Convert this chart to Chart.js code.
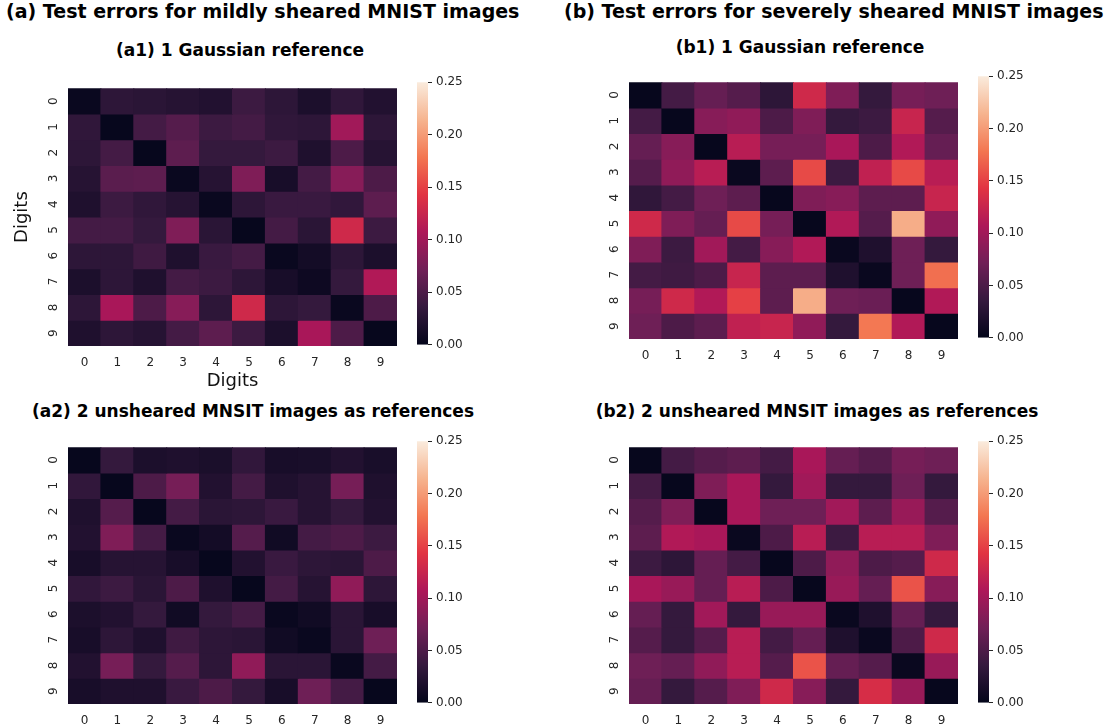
<!DOCTYPE html>
<html>
<head>
<meta charset="utf-8">
<script src="https://cdn.jsdelivr.net/npm/chart.js@4.4.1/dist/chart.umd.min.js"></script>
<style>
  body { margin: 0; background: #fff; }
  #fig { position: relative; width: 1104px; height: 728px; overflow: hidden; font-family: 'DejaVu Sans', sans-serif; }
  #fig canvas { position: absolute; }
  .t { position: absolute; white-space: nowrap; font-weight: bold; color: #000; line-height: 1; }
  .c { transform: translateX(-50%); }
</style>
</head>
<body>
<div id="fig">
  <div class="t" style="left:6px;top:2px;font-size:19px">(a) Test errors for mildly sheared MNIST images</div>
  <div class="t" style="left:564px;top:2px;font-size:19px">(b) Test errors for severely sheared MNIST images</div>
  <div class="t c" style="left:240px;top:42px;font-size:17px">(a1) 1 Gaussian reference</div>
  <div class="t c" style="left:800px;top:39px;font-size:17px">(b1) 1 Gaussian reference</div>
  <div class="t c" style="left:253px;top:403px;font-size:17px">(a2) 2 unsheared MNSIT images as references</div>
  <div class="t c" style="left:817px;top:403px;font-size:17px">(b2) 2 unsheared MNSIT images as references</div>
  <canvas id="hA1"></canvas><canvas id="cA1"></canvas>
  <canvas id="hB1"></canvas><canvas id="cB1"></canvas>
  <canvas id="hA2"></canvas><canvas id="cA2"></canvas>
  <canvas id="hB2"></canvas><canvas id="cB2"></canvas>
</div>
<script>
const digits = ['0', '1', '2', '3', '4', '5', '6', '7', '8', '9'];

// rows = true digit, columns = predicted digit
const errA1 = [
  [0.005, 0.030, 0.028, 0.025, 0.022, 0.040, 0.030, 0.018, 0.032, 0.022],
  [0.032, 0.003, 0.045, 0.055, 0.040, 0.045, 0.032, 0.030, 0.100, 0.030],
  [0.030, 0.045, 0.003, 0.060, 0.035, 0.035, 0.040, 0.020, 0.050, 0.025],
  [0.025, 0.058, 0.060, 0.005, 0.025, 0.080, 0.015, 0.045, 0.085, 0.050],
  [0.020, 0.040, 0.032, 0.025, 0.005, 0.030, 0.038, 0.038, 0.033, 0.060],
  [0.045, 0.045, 0.035, 0.080, 0.028, 0.003, 0.045, 0.028, 0.130, 0.040],
  [0.030, 0.030, 0.042, 0.020, 0.038, 0.045, 0.005, 0.012, 0.030, 0.018],
  [0.018, 0.030, 0.020, 0.045, 0.040, 0.030, 0.015, 0.008, 0.035, 0.110],
  [0.030, 0.105, 0.050, 0.085, 0.030, 0.130, 0.030, 0.035, 0.005, 0.050],
  [0.020, 0.030, 0.025, 0.045, 0.060, 0.040, 0.018, 0.105, 0.050, 0.003]
];
const errA2 = [
  [0.003, 0.035, 0.018, 0.020, 0.017, 0.033, 0.015, 0.016, 0.022, 0.016],
  [0.033, 0.003, 0.050, 0.075, 0.022, 0.045, 0.020, 0.025, 0.075, 0.020],
  [0.020, 0.055, 0.003, 0.045, 0.028, 0.030, 0.038, 0.025, 0.035, 0.022],
  [0.022, 0.080, 0.045, 0.005, 0.012, 0.055, 0.010, 0.045, 0.050, 0.040],
  [0.015, 0.025, 0.025, 0.015, 0.003, 0.022, 0.038, 0.030, 0.028, 0.050],
  [0.033, 0.040, 0.028, 0.050, 0.020, 0.003, 0.045, 0.025, 0.090, 0.030],
  [0.018, 0.022, 0.035, 0.010, 0.035, 0.045, 0.005, 0.010, 0.028, 0.015],
  [0.015, 0.030, 0.020, 0.042, 0.030, 0.028, 0.010, 0.005, 0.028, 0.070],
  [0.022, 0.075, 0.035, 0.055, 0.030, 0.090, 0.028, 0.028, 0.005, 0.045],
  [0.015, 0.020, 0.020, 0.038, 0.050, 0.035, 0.015, 0.070, 0.045, 0.003]
];
const errB1 = [
  [0.003, 0.045, 0.065, 0.055, 0.030, 0.130, 0.080, 0.035, 0.075, 0.070],
  [0.045, 0.003, 0.085, 0.090, 0.050, 0.080, 0.035, 0.040, 0.125, 0.055],
  [0.065, 0.085, 0.003, 0.115, 0.075, 0.075, 0.105, 0.050, 0.110, 0.065],
  [0.055, 0.090, 0.115, 0.005, 0.060, 0.155, 0.040, 0.120, 0.155, 0.115],
  [0.032, 0.045, 0.070, 0.060, 0.003, 0.080, 0.085, 0.060, 0.060, 0.125],
  [0.130, 0.080, 0.065, 0.155, 0.075, 0.003, 0.110, 0.055, 0.210, 0.090],
  [0.080, 0.040, 0.100, 0.045, 0.085, 0.110, 0.005, 0.020, 0.070, 0.035],
  [0.045, 0.042, 0.050, 0.125, 0.060, 0.060, 0.020, 0.005, 0.070, 0.175],
  [0.075, 0.130, 0.110, 0.150, 0.060, 0.210, 0.070, 0.068, 0.003, 0.110],
  [0.070, 0.050, 0.060, 0.120, 0.125, 0.090, 0.035, 0.180, 0.110, 0.003]
];
const errB2 = [
  [0.003, 0.045, 0.055, 0.060, 0.045, 0.105, 0.065, 0.055, 0.075, 0.070],
  [0.045, 0.003, 0.080, 0.105, 0.035, 0.100, 0.035, 0.035, 0.070, 0.035],
  [0.055, 0.080, 0.003, 0.105, 0.070, 0.070, 0.100, 0.060, 0.095, 0.055],
  [0.060, 0.110, 0.105, 0.005, 0.050, 0.115, 0.040, 0.115, 0.115, 0.080],
  [0.040, 0.030, 0.065, 0.045, 0.003, 0.050, 0.090, 0.050, 0.055, 0.130],
  [0.105, 0.095, 0.065, 0.115, 0.050, 0.003, 0.095, 0.065, 0.160, 0.085],
  [0.065, 0.035, 0.100, 0.035, 0.095, 0.095, 0.005, 0.020, 0.065, 0.035],
  [0.055, 0.035, 0.055, 0.115, 0.045, 0.065, 0.020, 0.005, 0.050, 0.130],
  [0.070, 0.065, 0.090, 0.115, 0.055, 0.160, 0.065, 0.055, 0.005, 0.095],
  [0.065, 0.035, 0.055, 0.080, 0.130, 0.085, 0.035, 0.135, 0.095, 0.003]
];
const vmin = 0;
const vmax = 0.25;
const cbarStep = 0.05;

// seaborn "rocket" colormap, sampled
const rocketStops = [
  [0, '#03051a'], [1 / 7, '#35193e'], [2 / 7, '#701f57'], [3 / 7, '#ad1759'],
  [4 / 7, '#e13342'], [5 / 7, '#f37651'], [6 / 7, '#f6b48f'], [1, '#faebdd']
];

function hexRgb(h) {
  return [parseInt(h.slice(1, 3), 16), parseInt(h.slice(3, 5), 16), parseInt(h.slice(5, 7), 16)];
}

function rocket(v) {
  let t = (v - vmin) / (vmax - vmin);
  t = Math.max(0, Math.min(1, t));
  for (let i = 1; i < rocketStops.length; i++) {
    const a = rocketStops[i - 1];
    const b = rocketStops[i];
    if (t <= b[0]) {
      const f = (t - a[0]) / (b[0] - a[0]);
      const ca = hexRgb(a[1]);
      const cb = hexRgb(b[1]);
      const c = ca.map((x, k) => Math.round(x + (cb[k] - x) * f));
      return 'rgb(' + c.join(',') + ')';
    }
  }
  return rocketStops[rocketStops.length - 1][1];
}

const TICK_FONT = { family: "'DejaVu Sans', sans-serif", size: 12 };
const TEXT = '#262626';
const YAXIS_W = 68;
const HEAT_W = 329;

function heatmap(id, matrix, left, top, height, withTitles) {
  const bottomH = withTitles ? 50 : 30;
  const cv = document.getElementById(id);
  cv.width = YAXIS_W + HEAT_W + 10;
  cv.height = 10 + height + bottomH;
  cv.style.left = (left - YAXIS_W) + 'px';
  cv.style.top = (top - 10) + 'px';

  new Chart(cv, {
    type: 'bar',
    data: {
      labels: digits,
      datasets: matrix.map(function(row, i) {
        return {
          label: digits[i],
          data: row.map(function() { return 1; }),
          backgroundColor: row.map(rocket),
          borderWidth: 0,
          barPercentage: 1,
          categoryPercentage: 1,
          inflateAmount: 0.5
        };
      })
    },
    options: {
      responsive: false,
      animation: false,
      layout: { padding: { top: 10, right: 10 } },
      plugins: { legend: { display: false }, tooltip: { enabled: false } },
      scales: {
        x: {
          stacked: true,
          grid: { display: false, drawTicks: false },
          border: { display: false },
          ticks: { color: TEXT, font: TICK_FONT, padding: 10, maxRotation: 0 },
          title: { display: withTitles, text: 'Digits', color: '#111', font: { family: 'DejaVu Sans', size: 18 }, padding: { top: 0, bottom: 4 } },
          afterFit: function(s) { s.height = bottomH; }
        },
        y: {
          stacked: true,
          reverse: true,
          min: 0,
          max: digits.length,
          grid: { display: false, drawTicks: false },
          border: { display: false },
          afterBuildTicks: function(s) {
            s.ticks = digits.map(function(d, i) { return { value: i + 0.5 }; });
          },
          ticks: {
            color: TEXT, font: TICK_FONT, padding: 10,
            minRotation: 90, maxRotation: 90, crossAlign: 'center',
            callback: function(v) { return digits[Math.floor(v)]; }
          },
          title: { display: withTitles, text: 'Digits', color: '#111', font: { family: 'DejaVu Sans', size: 18 }, padding: { top: 12, bottom: 0 } },
          afterFit: function(s) { s.width = YAXIS_W; }
        }
      }
    }
  });
}

function colorbar(id, left, top, height) {
  const cv = document.getElementById(id);
  cv.width = 10 + 11 + 60;
  cv.height = 10 + height + 10;
  cv.style.left = (left - 10) + 'px';
  cv.style.top = (top - 10) + 'px';

  new Chart(cv, {
    type: 'bar',
    data: {
      labels: [''],
      datasets: [{
        data: [[vmin, vmax]],
        backgroundColor: function(c) {
          const area = c.chart.chartArea;
          if (!area) return '#000';
          const g = c.chart.ctx.createLinearGradient(0, area.bottom, 0, area.top);
          rocketStops.forEach(function(s) { g.addColorStop(s[0], s[1]); });
          return g;
        },
        borderWidth: 0,
        barPercentage: 1,
        categoryPercentage: 1
      }]
    },
    options: {
      responsive: false,
      animation: false,
      layout: { padding: { left: 10, top: 10, bottom: 10, right: 0 } },
      plugins: { legend: { display: false }, tooltip: { enabled: false } },
      scales: {
        x: { display: false },
        y: {
          position: 'right',
          min: vmin,
          max: vmax,
          grid: { drawOnChartArea: false, tickLength: 4, color: TEXT },
          border: { display: false },
          ticks: {
            stepSize: cbarStep, color: TEXT, font: TICK_FONT, padding: 4,
            callback: function(v) { return v.toFixed(2); }
          },
          afterFit: function(s) { s.width = 60; }
        }
      }
    }
  });
}

heatmap('hA1', errA1, 68, 81, 265, true);
colorbar('cA1', 417, 81, 265);
heatmap('hB1', errB1, 629, 75, 264, false);
colorbar('cB1', 978, 75, 264);
heatmap('hA2', errA2, 68, 440, 264, false);
colorbar('cA2', 417, 440, 264);
heatmap('hB2', errB2, 629, 440, 264, false);
colorbar('cB2', 978, 440, 264);
</script>
</body>
</html>
